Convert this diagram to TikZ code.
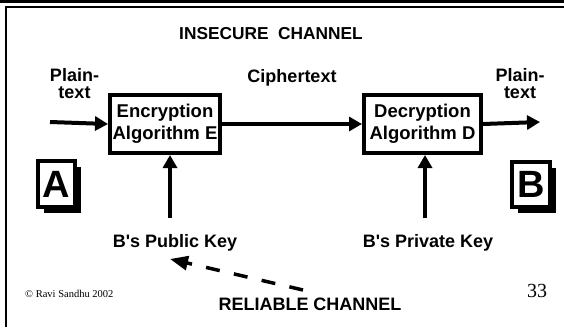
\documentclass[tikz,border=0pt]{standalone}
\usepackage{fontspec}
\setmainfont{Liberation Sans}
\newfontfamily\footserif{Liberation Serif}
\usetikzlibrary{arrows.meta, positioning, calc, shadows}

\tikzset{
    lbl/.style={font=\fontsize{18}{17}\selectfont\bfseries, align=center, inner sep=0pt},
    algbox/.style={draw, line width=4pt, font=\fontsize{18.5}{22}\selectfont\bfseries,
        align=center, minimum height=58pt, inner sep=0pt},
    party/.style={draw, line width=4pt, fill=white, inner sep=0pt,
        font=\fontsize{38}{38}\selectfont\bfseries,
        drop shadow={shadow xshift=6pt, shadow yshift=-6pt, opacity=1, fill=black}},
    flow/.style={line width=4pt, -{Triangle[length=13pt, width=14pt]}},
}

\begin{document}
\begin{tikzpicture}[x=1pt, y=-1pt]
    \useasboundingbox (0,0) rectangle (564,327);

    % Slide frame
    \draw[line width=3.3pt] (0,1.65) -- (564,1.65);
    \draw[line width=1.6pt] (5,7) -- (564,7);
    \draw[line width=1.6pt] (5.8,7) -- (5.8,327);

    % Channel labels
    \node[lbl, anchor=base, font=\fontsize{17.3}{17}\selectfont\bfseries] (insecure)
        at (271,39) {INSECURE\ \ CHANNEL};
    \node[lbl, anchor=base] (cipher) at (292,82) {Ciphertext};
    \node[lbl, anchor=base] (reliable) at (310,310) {RELIABLE CHANNEL};

    % Algorithms
    \node[algbox, minimum width=110pt] (enc) at (165,124) {Encryption\\Algorithm E};
    \node[algbox, minimum width=117pt] (dec) at (422.5,124) {Decryption\\Algorithm D};

    % Parties A and B
    \node[party, minimum width=37pt, minimum height=46pt] (pa) at (56.5,184) {A};
    \node[party, minimum width=38pt, minimum height=45pt] (pb) at (531,184.5) {B};

    % Plaintext in and out
    \node[lbl] (plainin) at (74.5,83.5) {Plain-\\text};
    \node[lbl] (plainout) at (520,83.5) {Plain-\\text};
    \coordinate (intail) at (50,122);
    \coordinate (outtip) at (540,122);
    \draw[flow] (intail) -- (enc.west);
    \draw[flow] (enc.east) -- (dec.west);
    \draw[flow] (dec.east) -- (outtip);

    % Keys
    \node[lbl, anchor=base] (pubkey) at (175,247) {B\textquotesingle s Public Key};
    \node[lbl, anchor=base] (privkey) at (428,247) {B\textquotesingle s Private Key};
    \coordinate (pubtail) at (170,218);
    \coordinate (privtail) at (425,218);
    \draw[flow] (pubtail) -- (pubtail |- enc.south);
    \draw[flow] (privtail) -- (privtail |- dec.south);

    % Key delivery over the reliable channel
    \coordinate (relstart) at (303,290);
    \coordinate (reltip) at (170,259);
    \draw[line width=3.5pt, dash pattern=on 14pt off 14.5pt,
        -{Triangle[length=18pt, width=14pt]}] (relstart) -- (reltip);

    % Footer
    \node[anchor=base west, inner sep=0pt, font=\footserif\fontsize{10.5}{10.5}\selectfont]
        (copyr) at (25,297) {\textcopyright\ Ravi Sandhu 2002};
    \node[anchor=base, inner sep=0pt, font=\footserif\fontsize{20}{20}\selectfont]
        (pagenum) at (537,297) {33};
\end{tikzpicture}
\end{document}
